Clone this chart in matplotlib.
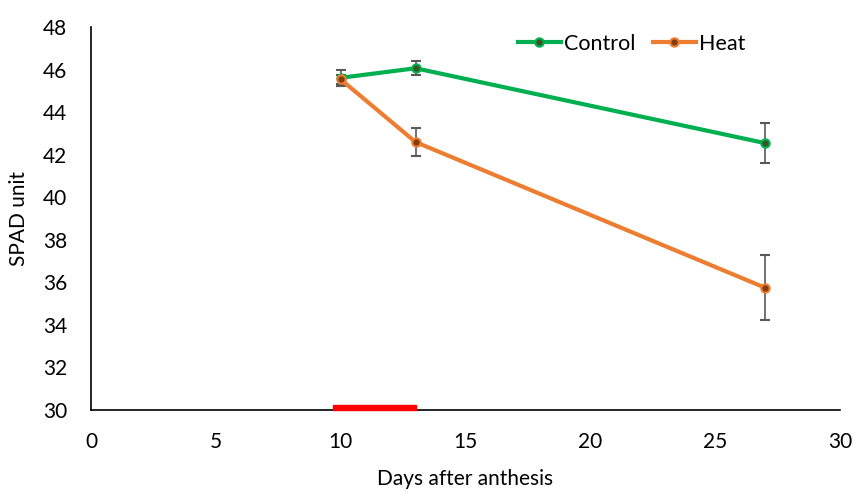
import matplotlib.pyplot as plt
from matplotlib.patches import Rectangle
from matplotlib.lines import Line2D

# SPAD readings (days after anthesis)
days = [10, 13, 27]
control = [45.62, 46.07, 42.55]
control_err = [0.38, 0.33, 0.95]
heat = [45.55, 42.6, 35.75]
heat_err = [0.2, 0.65, 1.52]
heat_period = (9.7, 13.0)  # red bar on the x axis

plt.rcParams['font.family'] = ['Lato', 'DejaVu Sans']

fig = plt.figure(figsize=(8.55, 4.92), dpi=100)
ax = fig.add_axes([0.1064, 0.1667, 0.876, 0.778])

styles = {
    'Control': dict(color='#00B050', mfc='#375623', mec='#00B050'),
    'Heat': dict(color='#ED7D31', mfc='#843C0C', mec='#ED7D31'),
}

for name, vals, errs in [('Control', control, control_err), ('Heat', heat, heat_err)]:
    st = styles[name]
    ax.errorbar(days, vals, yerr=errs, color=st['color'], lw=3,
                marker='o', ms=6, mfc=st['mfc'], mec=st['mec'], mew=1.5,
                ecolor='#595959', elinewidth=1.2, capsize=3.5, capthick=1.2,
                zorder=3)

# heat stress period
ax.add_patch(Rectangle((heat_period[0], 30), heat_period[1] - heat_period[0], 0.25,
                       color='#FF0000', zorder=4, clip_on=False))

ax.set_xlim(0, 30)
ax.set_ylim(30, 48)
ax.set_xticks(range(0, 31, 5))
ax.set_yticks(range(30, 49, 2))
ax.tick_params(length=0, labelsize=15)
ax.tick_params(axis='x', pad=16)
ax.tick_params(axis='y', pad=17)
for s in ['top', 'right']:
    ax.spines[s].set_visible(False)
for s in ['left', 'bottom']:
    ax.spines[s].set_color('black')
    ax.spines[s].set_linewidth(1.2)

ax.set_xlabel('Days after anthesis', fontsize=15, labelpad=12)
ax.set_ylabel('SPAD unit', fontsize=15, labelpad=10)

handles = [Line2D([], [], lw=3, marker='o', ms=6, mew=1.5, **styles[n]) for n in styles]
fig.legend(handles, list(styles), loc='center', bbox_to_anchor=(0.7386, 0.9106), ncol=2,
           frameon=False, fontsize=15.5, handlelength=2.0, columnspacing=0.8,
           handletextpad=0.15)

fig.savefig('out.png', dpi=100)
